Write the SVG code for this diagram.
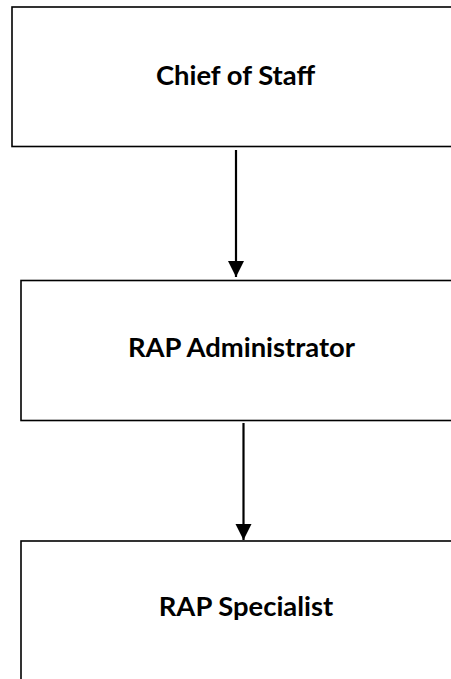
<svg xmlns="http://www.w3.org/2000/svg" width="451" height="679" viewBox="0 0 451 679">
<defs>
<style>
.box{fill:#fff;stroke:#000;stroke-width:1.6}
.lbl{font-family:Lato,"Open Sans","Liberation Sans",sans-serif;font-weight:bold;font-size:27.4px;fill:#000;text-anchor:middle}
.conn{stroke:#000;stroke-width:2.2;fill:none}
</style>
<marker id="arr" markerUnits="userSpaceOnUse" markerWidth="16" markerHeight="17" refX="16" refY="8" orient="auto">
<path d="M0,0 L16,8 L0,16 Z" fill="#000"/>
</marker>
</defs>
<rect width="451" height="679" fill="#fff"/>
<g id="node-chief">
<rect class="box" x="12" y="7" width="460" height="139.5"/>
<text class="lbl" x="235.5" y="84.5">Chief of Staff</text>
</g>
<g id="node-admin">
<rect class="box" x="21" y="280.5" width="460" height="140"/>
<text class="lbl" x="241.5" y="357">RAP Administrator</text>
</g>
<g id="node-specialist">
<rect class="box" x="21" y="541" width="460" height="200"/>
<text class="lbl" x="246" y="616">RAP Specialist</text>
</g>
<g id="connectors">
<line class="conn" x1="236" y1="150" x2="236" y2="277" marker-end="url(#arr)"/>
<line class="conn" x1="243.5" y1="423" x2="243.5" y2="540" marker-end="url(#arr)"/>
</g>
</svg>
